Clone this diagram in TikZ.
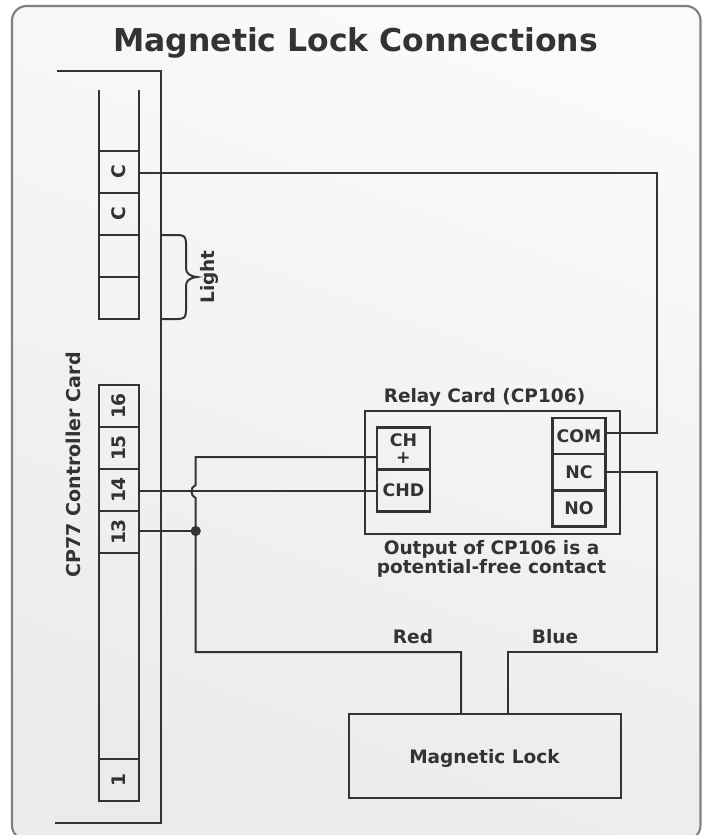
\documentclass[tikz,border=0pt]{standalone}
\usepackage{fontspec}
\setmainfont{DejaVu Sans}
\usepackage{tikz}
\usetikzlibrary{positioning}
\definecolor{wirecol}{HTML}{333333}
\definecolor{framecol}{HTML}{808080}
\tikzset{
    wire/.style={draw=wirecol,line width=1.5pt},
    cell/.style={draw=wirecol,line width=1.5pt,inner sep=0pt,outer sep=0pt,minimum width=30pt,minimum height=31.5pt,text=wirecol,font=\fontsize{14}{16}\selectfont\bfseries},
    relaycell/.style={draw=wirecol,line width=1.8pt,inner sep=0pt,outer sep=0pt,text=wirecol,font=\fontsize{13}{13}\selectfont\bfseries,align=center},
    caption/.style={text=wirecol,inner sep=0pt,font=\fontsize{13.9}{14.25}\selectfont\bfseries,align=center},
}
\begin{document}
\begin{tikzpicture}[x=.75pt,y=-.75pt]
        \useasboundingbox[clip] (0,0) rectangle (708,835);
        \shade[draw=framecol,line width=1.6pt,rounded corners=11pt,top color=white!98!black,bottom color=white!92!black,shading angle=-20] (12,6) rectangle (700.5,840);
        \node[text=wirecol,inner sep=0pt,font=\fontsize{23.6}{28}\selectfont\bfseries] (title) at (355.5,43) {Magnetic Lock Connections};

        % controller card outline
        \coordinate (cardtop) at (57,71);
        \coordinate (cardbot) at (55,823);
        \draw[wire] (cardtop) -| (160.5,823) -- (cardbot);
        \node[caption,rotate=90,font=\fontsize{14.3}{16}\selectfont\bfseries] (cardlabel) at (73,465) {CP77 Controller Card};

        % upper terminals
        \node[cell] (cone) at (119,172) {\rotatebox{90}{C}};
        \node[cell] (ctwo) at (119,214) {\rotatebox{90}{C}};
        \node[cell] (lightone) at (119,256) {};
        \node[cell] (lighttwo) at (119,298) {};
        \coordinate (stripl) at (99,90);
        \coordinate (stripr) at (139,90);
        \draw[wire] (stripl) -- (cone.north west);
        \draw[wire] (stripr) -- (cone.north east);

        % light brace
        \coordinate (bracea) at (161,235);
        \coordinate (braceb) at (161,319);
        \draw[wire] (bracea) -- (178,235) .. controls (184,235) and (186,237) .. (186,243) -- (186,268) .. controls (186,273) and (189,276) .. (197,277) .. controls (189,278) and (186,281) .. (186,286) -- (186,311) .. controls (186,317) and (184,319) .. (178,319) -- (braceb);
        \node[caption] (lightlabel) at (209,277) {\rotatebox{90}{Light}};

        % lower terminals
        \foreach \n/\y in {16/406,15/448,14/490,13/532}
            \node[cell] (t\n) at (119,\y) {\rotatebox{90}{\n}};
        \node[cell] (tone) at (119,780) {\rotatebox{90}{1}};
        \draw[wire] (t13.south west) -- (tone.north west);
        \draw[wire] (t13.south east) -- (tone.north east);

        % relay card
        \node[draw=wirecol,line width=1.5pt,outer sep=0pt,minimum width=191.25pt,minimum height=92.5pt,inner sep=0pt] (relay) at (492.5,472.5) {};
        \node[caption] (relaylabel) at (484.5,397) {Relay Card (CP106)};
        \node[relaycell,minimum width=40pt,minimum height=31.5pt] (ch) at (403.5,448.5) {CH\\+};
        \node[relaycell,minimum width=40pt,minimum height=31.5pt] (chd) at (403.5,490.5) {CHD};
        \node[relaycell,minimum width=40pt,minimum height=27pt] (com) at (579,436) {COM};
        \node[relaycell,minimum width=40pt,minimum height=27pt] (nc) at (579,472) {NC};
        \node[relaycell,minimum width=40pt,minimum height=27pt] (no) at (579,508.5) {NO};
        \node[caption] (output) at (491.5,558.5) {Output of CP106 is a\\potential-free contact};

        % magnetic lock
        \node[draw=wirecol,line width=1.5pt,outer sep=0pt,minimum width=204pt,minimum height=63pt,inner sep=0pt,text=wirecol,text depth=0pt,font=\fontsize{13.9}{16}\selectfont\bfseries] (lock) at (484.5,756) {Magnetic Lock};
        \node[caption] (redlabel) at (413,637) {Red};
        \node[caption] (bluelabel) at (555,637) {Blue};

        % wires
        \coordinate (comturn) at (657,173);
        \draw[wire] ([yshift=2.25pt]com.east) -| (comturn) -- (cone.east |- comturn);
        \coordinate (chturn) at (195.7,457);
        \coordinate (hoptop) at (195.7,485);
        \coordinate (hopbot) at (195.7,498);
        \coordinate (redturn) at (195.7,652);
        \coordinate (redknee) at (461,652);
        \coordinate (redin) at (461,714);
        \coordinate (blueturn) at (657,652);
        \coordinate (blueknee) at (507.5,652);
        \coordinate (bluein) at (507.5,714);
        \draw[wire] (t14.east |- chd.west) -- (chd.west);
        \draw[wire] (ch.west |- chturn) -- (chturn) -- (hoptop) .. controls (190,487) and (190,496) .. (hopbot) -- (redturn) -- (redknee) -- (redin);
        \draw[wire] (nc.east) -| (blueturn) -- (blueknee) -- (bluein);
        \coordinate (junction) at (195.7,531);
        \draw[wire] (t13.east |- junction) -- (junction);
        \filldraw[wirecol] (junction) circle (3.6pt);
\end{tikzpicture}
\end{document}
